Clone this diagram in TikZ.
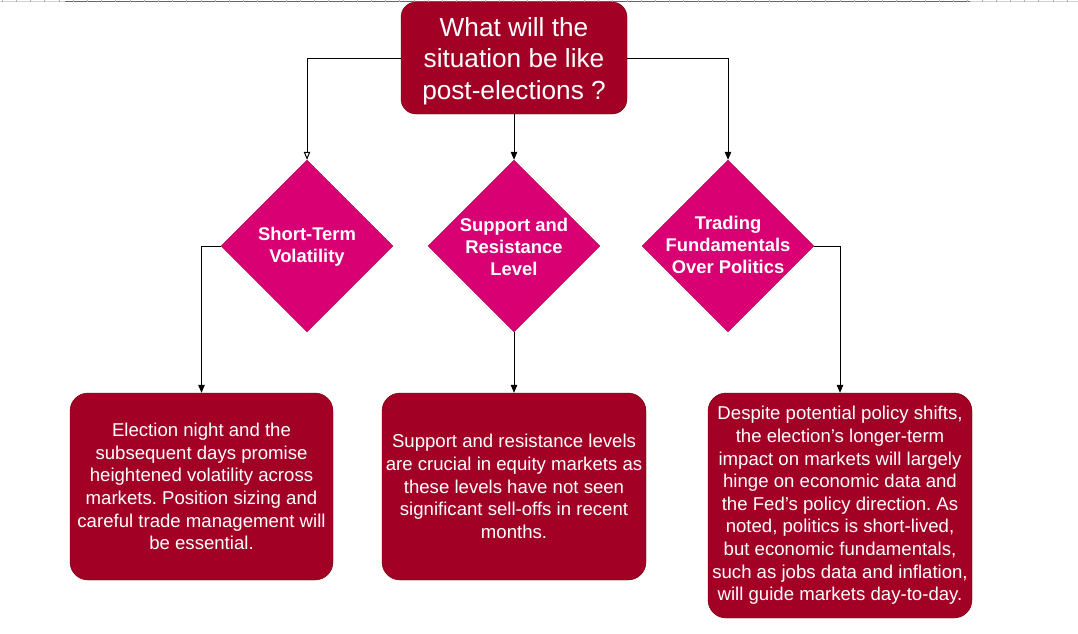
\documentclass[tikz,border=0pt]{standalone}
\usepackage{fontspec}
\setmainfont{Liberation Sans}
\frenchspacing
\usetikzlibrary{shapes.geometric,arrows.meta}
\definecolor{crimson}{HTML}{A20025}
\definecolor{crimsonedge}{HTML}{6F0000}
\definecolor{magentafill}{HTML}{D80073}
\definecolor{magentaedge}{HTML}{A50040}
\tikzset{
  question/.style={draw=crimsonedge, fill=crimson, rounded corners=15pt,
    minimum width=226pt, minimum height=112pt, inner sep=0pt},
  qtext/.style={text=white, align=center, inner sep=0pt,
    font=\fontsize{26.2}{31.5}\selectfont},
  decision/.style={diamond, draw=magentaedge, fill=magentafill, shape aspect=1,
    minimum width=172pt, minimum height=172pt, inner sep=0pt},
  dtext/.style={text=white, align=center, inner sep=0pt,
    font=\fontsize{18.4}{22.3}\selectfont\bfseries},
  infobox/.style={draw=crimsonedge, fill=crimson, rounded corners=18pt,
    inner sep=0pt, text=white, align=center,
    font=\fontsize{18.6}{22.6}\selectfont},
  link/.style={draw=black, line width=1pt},
  tip/.style={-{Triangle[length=8pt,width=6.5pt]}},
  opentip/.style={-{Triangle[open,length=8pt,width=6.5pt]}}
}
\begin{document}
\begin{tikzpicture}[x=1pt,y=-1pt]
\useasboundingbox[fill=white] (0,0) rectangle (1078,633);

% page ruler along the top edge
\draw[gray!35, line width=1pt] (0,1.5) -- (1078,1.5);
\draw[gray!80!black, line width=1pt] (65,1.5) -- (970,1.5);
\foreach \i in {0,...,75}
  \draw[gray!60, line width=0.6pt] (\i*14.2+2,0) -- ++(0,1.5);

% question
\node[question] (top) at (514,58) {};
\node[qtext] (qt) at (514,61) {What will the\\situation be like\\post-elections ?};

% decisions
\node[decision] (d1) at (307,246) {};
\node[decision] (d2) at (514,246) {};
\node[decision] (d3) at (728,246) {};
\node[dtext] (t1) at (307,247) {Short-Term\\Volatility};
\node[dtext] (t2) at (514,247) {Support and\\Resistance\\Level};
\node[dtext] (t3) at (728,245) {Trading\\Fundamentals\\Over Politics};

% outcomes
\node[infobox, minimum width=263pt, minimum height=187pt] (b1) at (201.5,486.5)
  {Election night and the\\subsequent days promise\\heightened volatility across\\markets. Position sizing and\\careful trade management will\\be essential.};
\node[infobox, minimum width=264pt, minimum height=187pt] (b2) at (514,486.5)
  {Support and resistance levels\\are crucial in equity markets as\\these levels have not seen\\significant sell-offs in recent\\months.};
\node[infobox, minimum width=264pt, minimum height=225pt] (b3) at (840,505.5)
  {Despite potential policy shifts,\\the election’s longer-term\\impact on markets will largely\\hinge on economic data and\\the Fed’s policy direction. As\\noted, politics is short-lived,\\but economic fundamentals,\\such as jobs data and inflation,\\will guide markets day-to-day.};

% connectors
\draw[link, opentip] (top.west) -| (d1.north);
\draw[link, tip] (top.south) -- (d2.north);
\draw[link, tip] (top.east) -| (d3.north);
\draw[link, tip] (d1.west) -| (b1.north);
\draw[link, tip] (d2.south) -- (b2.north);
\draw[link, tip] (d3.east) -| (b3.north);
\end{tikzpicture}
\end{document}
